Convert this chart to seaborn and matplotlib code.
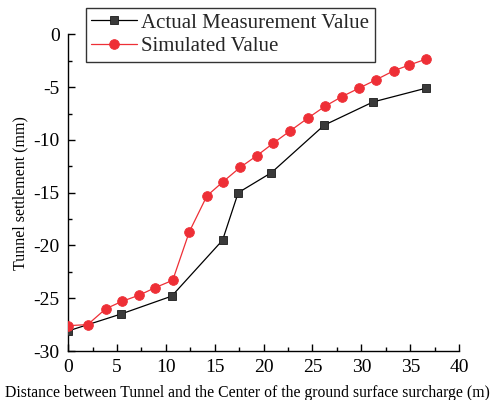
import matplotlib
matplotlib.use("Agg")
import matplotlib.pyplot as plt
import seaborn as sns
import pandas as pd
from matplotlib.ticker import MultipleLocator

# Measured settlement along the tunnel
measured_x = [0.0, 5.4, 10.6, 15.8, 17.4, 20.8, 26.2, 31.2, 36.6]
measured_y = [-28.1, -26.5, -24.8, -19.5, -15.0, -13.1, -8.6, -6.4, -5.1]

# Numerical simulation results
simulated_x = [0.0, 2.0, 3.85, 5.5, 7.3, 8.9, 10.7, 12.4, 14.2, 15.8, 17.6,
               19.3, 21.0, 22.7, 24.5, 26.3, 28.0, 29.75, 31.5, 33.3, 34.9, 36.6]
simulated_y = [-27.6, -27.5, -26.0, -25.3, -24.7, -24.0, -23.3, -18.7, -15.3, -14.0, -12.6,
               -11.5, -10.3, -9.15, -7.95, -6.8, -5.9, -5.1, -4.3, -3.45, -2.9, -2.35]

series_names = ["Actual Measurement Value", "Simulated Value"]
x_ticks = [0, 5, 10, 15, 20, 25, 30, 35, 40]
y_ticks = [0, -5, -10, -15, -20, -25, -30]

sns.set_style("ticks")
plt.rcParams["font.family"] = ["Liberation Serif", "DejaVu Serif"]

df_m = pd.DataFrame({"x": measured_x, "y": measured_y})
df_s = pd.DataFrame({"x": simulated_x, "y": simulated_y})

fig = plt.figure(figsize=(4.9, 4.0), dpi=100)
ax = fig.add_axes([0.139, 0.1225, 0.798, 0.7915])

red = "#ee2f36"
sns.lineplot(data=df_m, x="x", y="y", ax=ax, color="black", linewidth=0.9,
             marker="s", markersize=6, markerfacecolor="#3a3a3a",
             markeredgecolor="#1a1a1a", markeredgewidth=0.6,
             label=series_names[0], zorder=3)
sns.lineplot(data=df_s, x="x", y="y", ax=ax, color=red, linewidth=0.9,
             marker="o", markersize=7, markerfacecolor=red,
             markeredgecolor=red, markeredgewidth=0.6,
             label=series_names[1], zorder=4)

ax.set_xlim(0, 40)
ax.set_ylim(-30, 0)
ax.set_xticks(x_ticks)
ax.set_yticks(y_ticks)
ax.set_xticklabels([str(t) for t in x_ticks])
ax.set_yticklabels([str(t) for t in y_ticks])
ax.xaxis.set_minor_locator(MultipleLocator(2.5))
ax.yaxis.set_minor_locator(MultipleLocator(2.5))
ax.tick_params(which="major", direction="in", length=5, width=1, labelsize=14,
               color="black", labelcolor="black", pad=6)
ax.tick_params(which="minor", direction="in", length=3, width=1, color="black")

sns.despine(ax=ax)
for s in ["left", "bottom"]:
    ax.spines[s].set_color("black")
    ax.spines[s].set_linewidth(1)

ax.set_xlabel("Distance between Tunnel and the Center of the ground surface surcharge (m)",
              fontsize=11.3, color="black", va="center")
ax.xaxis.set_label_coords(0.459, -0.133)
ax.set_ylabel("Tunnel settlement (mm)", fontsize=11.5, color="black", labelpad=4)

leg = ax.legend(loc="upper left", bbox_to_anchor=(0.046, 1.084), fontsize=15,
                frameon=True, fancybox=False, edgecolor="black",
                handlelength=2.2, handletextpad=0.2, borderpad=0.25,
                labelspacing=0.2, borderaxespad=0)
leg.get_frame().set_linewidth(1)
leg.set_zorder(10)

fig.savefig("out.png", dpi=100)
